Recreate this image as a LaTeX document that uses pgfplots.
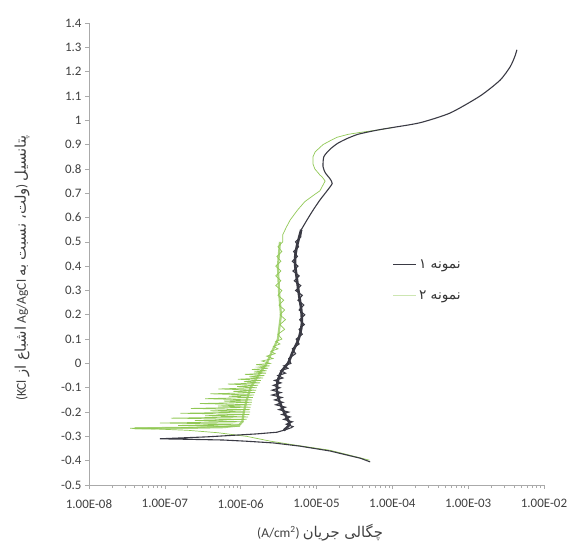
\documentclass[border=0pt]{standalone}
\usepackage{fontspec}
\setmainfont{Carlito}
\newfontfamily\arabicfont[Script=Arabic, Scale=1.1]{DejaVu Sans}
\TeXXeTstate=1
\usepackage{pgfplots}
\pgfplotsset{compat=1.18}
\definecolor{darkc}{RGB}{58,58,68}
\definecolor{greenc}{RGB}{145,200,85}
\definecolor{axisc}{RGB}{170,170,170}
\begin{document}
\begin{tikzpicture}
\begin{axis}[
  scale only axis,
  width=455bp, height=462bp,
  xmode=log,
  xmin=1e-8, xmax=1e-2,
  ymin=-0.5, ymax=1.4,
  axis x line=bottom, axis y line=left,
  axis line style={-, color=axisc, line width=0.8pt},
  tick style={color=axisc, line width=0.6pt},
  tick align=outside,
  major tick length=4bp, minor tick length=3bp,
  xtick={1e-8,1e-7,1e-6,1e-5,1e-4,1e-3,1e-2},
  xticklabels={1.00E-08,1.00E-07,1.00E-06,1.00E-05,1.00E-04,1.00E-03,1.00E-02},
  ytick={-0.5,-0.4,-0.3,-0.2,-0.1,0,0.1,0.2,0.3,0.4,0.5,0.6,0.7,0.8,0.9,1,1.1,1.2,1.3,1.4},
  yticklabel style={/pgf/number format/fixed,/pgf/number format/precision=1},
  xticklabel style={yshift=-7bp},
  /pgf/number format/assume math mode=true,
  ticklabel style={font=\fontsize{13}{15}\selectfont, text=black!75},
  xlabel={(A/cm\textsuperscript{2}) {\arabicfont\beginR چگالی جریان\endR}},
  ylabel={(KCl {\arabicfont\beginR اشباع از\endR} Ag/AgCl {\arabicfont\beginR ولت، نسبت به\endR}) {\arabicfont\beginR پتانسیل\endR}},
  xlabel style={at={(axis description cs:0.508,-0.104)}, anchor=center, font=\fontsize{13.5}{15}\selectfont, text=black!75},
  ylabel style={at={(axis description cs:-0.147,0.47)}, anchor=center, font=\fontsize{13.5}{15}\selectfont, text=black!75},
  legend style={draw=none, fill=none, at={(axis description cs:0.661,0.497)}, anchor=north west,
    font=\fontsize{12.5}{14}\selectfont, row sep=17bp, text=black!80},
  legend cell align=left,
  legend image code/.code={\draw[#1] (0bp,0bp) -- (23bp,0bp);},
]
\addlegendimage{color=darkc, line width=1.1pt}
\addlegendentry{{\arabicfont\beginR نمونه ۱\endR}}
\addlegendimage{color=greenc!45!white, line width=1.1pt}
\addlegendentry{{\arabicfont\beginR نمونه ۲\endR}}

% sample 2 (green): dense core of the noisy band
\addplot[forget plot, color=greenc!75!white, line width=2.2pt] coordinates {
(4.0e-8,-0.267) (2e-7,-0.265) (6e-7,-0.262) (9.5e-7,-0.255) (1.05e-6,-0.24) (1.1e-6,-0.20)
(1.2e-6,-0.15) (1.35e-6,-0.10) (1.7e-6,-0.05) (2.2e-6,0.0) (2.6e-6,0.05) (3.1e-6,0.10)
(3.4e-6,0.20) (3.2e-6,0.30) (3.1e-6,0.40) (3.3e-6,0.50)
};
% sample 2 (green)
\addplot[forget plot, color=greenc, line width=0.7pt] coordinates {
(5e-5,-0.398) (1.5e-5,-0.357) (5e-6,-0.335) (2.5e-6,-0.32) (1.2e-6,-0.30) (5e-7,-0.285)
(2e-7,-0.275) (8e-8,-0.270) (3.5e-8,-0.267) (1e-7,-0.265) (2.5e-7,-0.263) (3.5e-7,-0.262)
(9.8e-7,-0.258) (1.5e-7,-0.255) (1.0e-6,-0.250) (8.6e-8,-0.245) (1.1e-6,-0.240) (2.5e-7,-0.235)
(1.2e-6,-0.230) (1.2e-7,-0.225) (1.25e-6,-0.220) (3.4e-7,-0.215) (1.3e-6,-0.210) (1.6e-7,-0.205)
(1.33e-6,-0.200) (4.0e-7,-0.195) (1.33e-6,-0.190) (2.2e-7,-0.185) (1.35e-6,-0.180) (5.0e-7,-0.175)
(1.38e-6,-0.170) (2.9e-7,-0.165) (1.4e-6,-0.160) (6.0e-7,-0.155) (1.42e-6,-0.150) (3.4e-7,-0.145)
(1.45e-6,-0.140) (7.0e-7,-0.135) (1.5e-6,-0.130) (4.0e-7,-0.125) (1.55e-6,-0.120) (8.0e-7,-0.115)
(1.6e-6,-0.110) (5.1e-7,-0.105) (1.64e-6,-0.100) (9.0e-7,-0.095) (1.7e-6,-0.090) (6.8e-7,-0.085)
(1.8e-6,-0.080) (1.1e-6,-0.075) (1.85e-6,-0.070) (9.2e-7,-0.065) (1.97e-6,-0.060) (1.3e-6,-0.055)
(2.05e-6,-0.050) (1.14e-6,-0.045) (2.16e-6,-0.040) (1.5e-6,-0.035) (2.2e-6,-0.030) (1.41e-6,-0.025)
(2.3e-6,-0.020) (1.7e-6,-0.015) (2.4e-6,-0.010) (1.6e-6,-0.005) (2.45e-6,0.000) (1.9e-6,0.01)
(2.67e-6,0.02) (2.2e-6,0.03) (2.85e-6,0.04) (2.5e-6,0.05) (3.1e-6,0.06) (2.7e-6,0.07)
(3.3e-6,0.08) (2.9e-6,0.09) (3.5e-6,0.10) (3.1e-6,0.12) (3.8e-6,0.14) (3.3e-6,0.16)
(3.9e-6,0.18) (3.3e-6,0.20) (3.8e-6,0.22) (3.2e-6,0.24) (3.7e-6,0.26) (3.1e-6,0.28)
(3.5e-6,0.30) (2.9e-6,0.32) (3.4e-6,0.34) (2.9e-6,0.36) (3.4e-6,0.38) (2.9e-6,0.40)
(3.4e-6,0.42) (3.0e-6,0.44) (3.5e-6,0.46) (3.1e-6,0.48) (3.6e-6,0.50) (3.6e-6,0.53)
(4.0e-6,0.56) (4.5e-6,0.59) (5.6e-6,0.63) (7.0e-6,0.665) (9.0e-6,0.69) (1.11e-5,0.71) (1.30e-5,0.75)
(1.2e-5,0.765) (1.11e-5,0.775) (9.5e-6,0.80) (9.0e-6,0.82) (9.0e-6,0.85) (9.6e-6,0.87) (1.22e-5,0.90)
(1.5e-5,0.915) (1.87e-5,0.93) (2.6e-5,0.942) (3.76e-5,0.95) (6.5e-5,0.96) (1.0e-4,0.97)
};

% sample 1 (dark): core of the noisy band
\addplot[forget plot, color=darkc, line width=2.6pt, smooth, tension=0.5] coordinates {
(3.7e-6,-0.275) (4.4e-6,-0.25) (4.0e-6,-0.22) (3.6e-6,-0.19) (3.2e-6,-0.15) (3.0e-6,-0.11)
(3.1e-6,-0.07) (3.5e-6,-0.03) (4.2e-6,0.0) (4.9e-6,0.05) (5.8e-6,0.10) (6.4e-6,0.16)
(6.3e-6,0.22) (5.9e-6,0.28) (5.5e-6,0.35) (5.2e-6,0.42) (5.5e-6,0.48) (6.3e-6,0.55)
};
% sample 1 (dark): noisy lower part
\addplot[forget plot, color=darkc, line width=1.1pt] coordinates {
(5.1e-5,-0.405) (3.8e-5,-0.39) (1.5e-5,-0.36) (6e-6,-0.34) (2.7e-6,-0.327) (1.2e-6,-0.32)
(5.9e-7,-0.315) (2e-7,-0.312) (8.6e-8,-0.31) (3.6e-7,-0.302) (1.6e-6,-0.29) (3.0e-6,-0.283)
(3.7e-6,-0.275) (4.6e-6,-0.265) (4.9e-6,-0.26) (4.0e-6,-0.25) (4.8e-6,-0.24) (3.7e-6,-0.23)
(4.5e-6,-0.22) (3.5e-6,-0.21) (4.3e-6,-0.20) (3.2e-6,-0.19) (3.9e-6,-0.18) (2.9e-6,-0.17)
(3.6e-6,-0.16) (2.8e-6,-0.15) (3.5e-6,-0.14) (2.6e-6,-0.13) (3.4e-6,-0.12) (2.6e-6,-0.11)
(3.3e-6,-0.10) (2.7e-6,-0.09) (3.4e-6,-0.08) (2.8e-6,-0.07) (3.6e-6,-0.06) (3.1e-6,-0.05)
(3.9e-6,-0.04) (3.4e-6,-0.03) (4.2e-6,-0.02) (3.7e-6,-0.01) (4.6e-6,0.00) (4.3e-6,0.02)
(5.3e-6,0.04) (4.8e-6,0.06) (5.9e-6,0.08) (5.4e-6,0.10) (6.5e-6,0.12) (5.9e-6,0.14)
(6.9e-6,0.16) (6.0e-6,0.18) (7.0e-6,0.20) (5.9e-6,0.22) (6.8e-6,0.24) (5.7e-6,0.26)
(6.5e-6,0.28) (5.3e-6,0.30) (6.2e-6,0.32) (5.1e-6,0.34) (5.9e-6,0.36) (4.9e-6,0.38)
(5.7e-6,0.40) (4.8e-6,0.42) (5.6e-6,0.44) (5.0e-6,0.46) (5.8e-6,0.48) (5.3e-6,0.50)
(6.2e-6,0.52) (6.3e-6,0.55)
};
% sample 1 (dark): smooth upper part
\addplot[forget plot, color=darkc, line width=1.1pt, smooth, tension=0.4] coordinates {
(6.3e-6,0.55) (7.5e-6,0.59) (9.0e-6,0.63) (1.11e-5,0.672) (1.38e-5,0.71)
(1.61e-5,0.74) (1.5e-5,0.76) (1.3e-5,0.785) (1.22e-5,0.81) (1.25e-5,0.85) (1.5e-5,0.88) (1.9e-5,0.905)
(2.54e-5,0.925) (3.5e-5,0.942) (5.0e-5,0.953) (7.0e-5,0.962) (1.0e-4,0.97) (2.33e-4,0.99)
(5.8e-4,1.03) (1.44e-3,1.10) (2.64e-3,1.165) (3.58e-3,1.22) (4.1e-3,1.26) (4.4e-3,1.29)
};
\coordinate (O) at (rel axis cs:0,0);
\end{axis}
\pgfresetboundingbox
\path (O) ++(-89bp,-60bp) rectangle ++(571bp,545bp);
\end{tikzpicture}
\end{document}
